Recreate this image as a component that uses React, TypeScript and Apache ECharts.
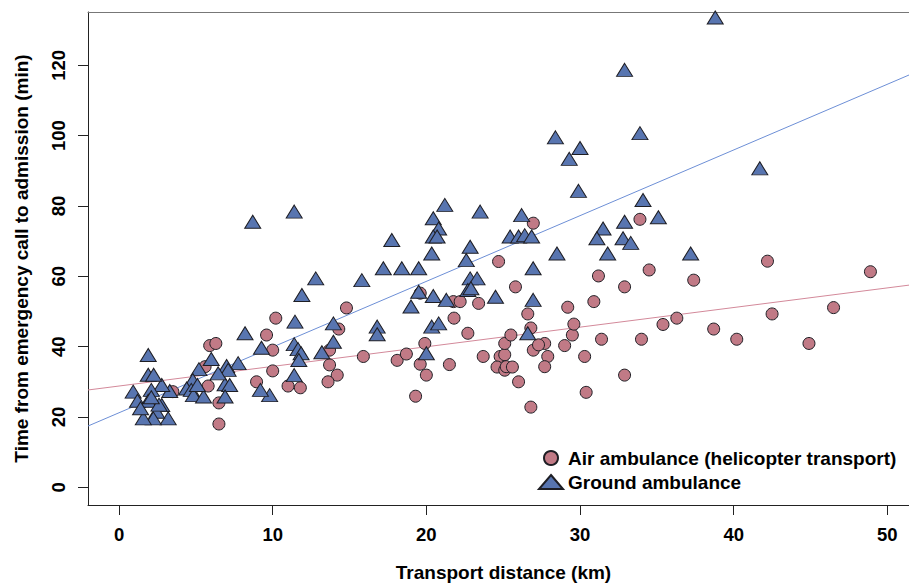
import React, { useEffect, useRef } from "react";
import * as echarts from "echarts";

const FONT = "'Liberation Sans', Arial, Helvetica, sans-serif";

const xTicks = [0, 10, 20, 30, 40, 50];
const yTicks = [0, 20, 40, 60, 80, 100, 120];
const xRange = [-2.02, 51.41];
const yRange = [-5.03, 135.15];

const airName = "Air ambulance (helicopter transport)";
const groundName = "Ground ambulance";

const airDistance = [
  3.5, 5.9, 6.3, 5.6, 5.8, 6.5, 6.5, 8.95, 9.6, 10.0, 10.0, 10.2, 11.0, 11.8, 13.7, 13.7,
  14.2, 13.6, 14.3, 14.8, 15.9, 18.1, 18.7, 19.6, 19.9, 20.0, 19.3, 19.6, 21.5, 21.8, 21.76,
  22.2, 23.4, 22.7, 23.7, 24.7, 24.8, 25.1, 24.6, 25.1, 25.2, 25.6, 25.1, 25.5, 25.8, 26.0,
  26.6, 26.8, 26.96, 26.96, 26.8, 27.7, 27.3, 27.9, 27.7, 29.0, 29.2, 29.5, 29.6, 30.3, 30.4,
  30.9, 31.2, 31.4, 32.9, 32.9, 33.9, 34.0, 34.5, 35.4, 36.3, 37.4, 38.7, 40.2, 42.2, 42.5,
  44.9, 46.5, 48.9,
];
const airTime = [
  27.2, 40.3, 40.9, 34.3, 28.8, 24.0, 18.0, 30.0, 43.3, 39.0, 33.1, 48.1, 28.8, 28.3, 39.0, 34.8,
  31.9, 30.0, 45.0, 51.0, 37.2, 36.1, 37.9, 35.0, 40.9, 31.9, 25.9, 55.2, 34.9, 48.1, 52.8,
  52.8, 52.3, 43.8, 37.2, 64.2, 37.2, 37.7, 34.2, 33.3, 34.3, 34.2, 40.9, 43.3, 57.0, 30.0,
  49.3, 45.3, 39.0, 75.1, 22.8, 40.9, 40.5, 37.2, 34.3, 40.3, 51.2, 43.3, 46.4, 37.2, 27.0,
  52.8, 60.1, 42.1, 57.0, 31.9, 76.2, 42.1, 61.8, 46.3, 48.1, 58.9, 45.0, 42.1, 64.3, 49.3,
  40.9, 51.1, 61.3,
];

const groundDistance = [
  38.8, 32.9, 28.4, 30.0, 29.3, 33.9, 29.9, 41.7, 34.1, 35.1, 32.9, 31.5, 31.1, 32.8, 33.3,
  31.8, 37.2, 28.5, 26.2, 25.45, 26.0, 26.4, 26.85, 26.95, 26.95, 26.6, 24.5, 23.5, 21.2, 20.45,
  20.8, 20.45, 20.7, 20.35, 22.85, 22.6, 22.85, 23.3, 22.7, 22.9, 19.5, 20.45, 21.3, 19.0,
  20.35, 20.8, 20.0, 19.5, 18.4, 17.2, 17.75, 15.8, 16.8, 16.8, 13.95, 13.95, 13.2, 12.8, 11.9,
  11.4, 8.7, 11.45, 11.4, 11.65, 11.85, 11.7, 11.4, 9.8, 9.2, 9.27, 8.2, 7.75, 7.0, 7.1, 6.9,
  7.2, 6.9, 6.45, 6.0, 5.2, 4.8, 4.4, 4.7, 4.84, 5.5, 5.1, 3.3, 3.2, 2.78, 2.78, 2.45, 2.23,
  1.58, 1.9, 1.9, 2.25, 0.92, 2.1, 1.2, 1.9, 1.4, 2.6, 2.1,
];
const groundTime = [
  133.6, 118.7, 99.5, 96.5, 93.4, 100.7, 84.3, 90.7, 81.7, 76.8, 75.5, 73.6, 70.8, 70.8, 69.5,
  66.5, 66.5, 66.5, 77.4, 71.3, 71.3, 71.7, 71.3, 62.3, 53.3, 43.8, 54.2, 78.4, 80.3, 76.5,
  73.6, 71.3, 71.3, 66.5, 68.4, 64.6, 59.4, 59.4, 56.1, 56.6, 55.6, 54.4, 53.3, 51.4,
  45.7, 46.6, 38.1, 62.3, 62.3, 62.3, 70.3, 58.9, 45.7, 43.5, 46.6, 41.4, 38.4, 59.4, 54.7,
  78.4, 75.5, 47.1, 40.7, 39.3, 38.1, 36.2, 31.9, 26.2, 27.7, 39.7, 43.8, 35.3, 34.5, 33.4, 29.3,
  29.1, 25.8, 32.4, 36.5, 33.6, 30.5, 28.1, 27.7, 26.2, 25.8, 29.1, 27.4, 19.6, 29.1, 23.4, 21.5, 19.6,
  19.6, 37.6, 32.0, 32.0, 27.2, 27.7, 24.6, 24.6, 22.5, 23.5, 25.6,
];

// fitted regression lines (intercept, slope)
const groundFit = [21.2, 1.868];
const airFit = [28.8, 0.558];

const AIR_FILL = "#c17a86";
const GROUND_FILL = "#5875b0";
const EDGE = "#1e1e24";

function fitLine(fit: number[]) {
  return xRange.map((x) => [x, fit[0] + fit[1] * x]);
}

export default function App() {
  const ref = useRef<HTMLDivElement>(null);
  useEffect(() => {
    if (!ref.current) return;
    const chart = echarts.init(ref.current, undefined, { renderer: "svg" });
    const airData = airDistance.map((x, i) => [x, airTime[i]]);
    const groundData = groundDistance.map((x, i) => [x, groundTime[i]]);
    chart.setOption({
      animation: false,
      backgroundColor: "#ffffff",
      textStyle: { fontFamily: FONT },
      grid: {
        left: 88,
        top: 12,
        right: 0,
        bottom: 78,
        show: false,
        containLabel: false,
        outerBoundsMode: "none",
      },
      legend: {
        orient: "vertical",
        left: 538,
        top: 448,
        padding: 0,
        itemWidth: 24,
        itemHeight: 14,
        itemGap: 4,
        selectedMode: false,
        textStyle: {
          fontFamily: FONT,
          fontSize: 19,
          fontWeight: "bold",
          color: "#000000",
          lineHeight: 20,
        },
        data: [
          { name: airName, icon: "circle" },
          { name: groundName, icon: "triangle" },
        ],
      },
      xAxis: [
        {
          type: "value",
          min: xRange[0],
          max: xRange[1],
          name: "Transport distance (km)",
          nameLocation: "middle",
          nameGap: 58,
          nameTextStyle: {
            fontFamily: FONT,
            fontSize: 19,
            fontWeight: "bold",
            color: "#000",
            padding: [0, 0, 0, 10],
          },
          axisLine: { show: true, onZero: false, lineStyle: { color: "#222222", width: 1 } },
          axisTick: { show: true, length: 10, lineStyle: { color: "#222222" }, customValues: xTicks },
          axisLabel: {
            customValues: xTicks,
            margin: 20,
            fontFamily: FONT,
            fontSize: 18.5,
            fontWeight: "bold",
            color: "#000",
          },
          splitLine: { show: false },
        },
        {
          type: "value",
          position: "top",
          min: xRange[0],
          max: xRange[1],
          axisLine: { show: true, onZero: false, lineStyle: { color: "#777777", width: 1 } },
          axisTick: { show: false },
          axisLabel: { show: false },
          splitLine: { show: false },
        },
      ],
      yAxis: {
        type: "value",
        min: yRange[0],
        max: yRange[1],
        name: "Time from emergency call to admission (min)",
        nameLocation: "middle",
        nameGap: 57,
        nameRotate: 90,
        nameTextStyle: { fontFamily: FONT, fontSize: 19, fontWeight: "bold", color: "#000" },
        axisLine: { show: true, onZero: false, lineStyle: { color: "#222222", width: 1 } },
        axisTick: { show: true, length: 10, lineStyle: { color: "#222222" }, customValues: yTicks },
        axisLabel: {
          customValues: yTicks,
          rotate: 90,
          margin: 20,
          fontFamily: FONT,
          fontSize: 18.5,
          fontWeight: "bold",
          color: "#000",
        },
        splitLine: { show: false },
      },
      series: [
        {
          name: "airFit",
          type: "line",
          data: fitLine(airFit),
          symbol: "none",
          lineStyle: { color: "#d3899a", width: 1 },
          silent: true,
          z: 1,
        },
        {
          name: "groundFit",
          type: "line",
          data: fitLine(groundFit),
          symbol: "none",
          lineStyle: { color: "#6d8fd6", width: 1 },
          silent: true,
          z: 1,
        },
        {
          name: airName,
          type: "scatter",
          data: airData,
          symbol: "circle",
          symbolSize: 12,
          itemStyle: { color: AIR_FILL, borderColor: EDGE, borderWidth: 1, opacity: 1 },
          z: 2,
        },
        {
          name: groundName,
          type: "scatter",
          data: groundData,
          symbol: "triangle",
          symbolSize: [16, 13],
          itemStyle: { color: GROUND_FILL, borderColor: EDGE, borderWidth: 1, opacity: 1 },
          z: 3,
        },
      ],
    });
    return () => chart.dispose();
  }, []);
  return (
    <div
      ref={ref}
      style={{ position: "absolute", left: 0, top: 0, width: 909, height: 583 }}
    />
  );
}
